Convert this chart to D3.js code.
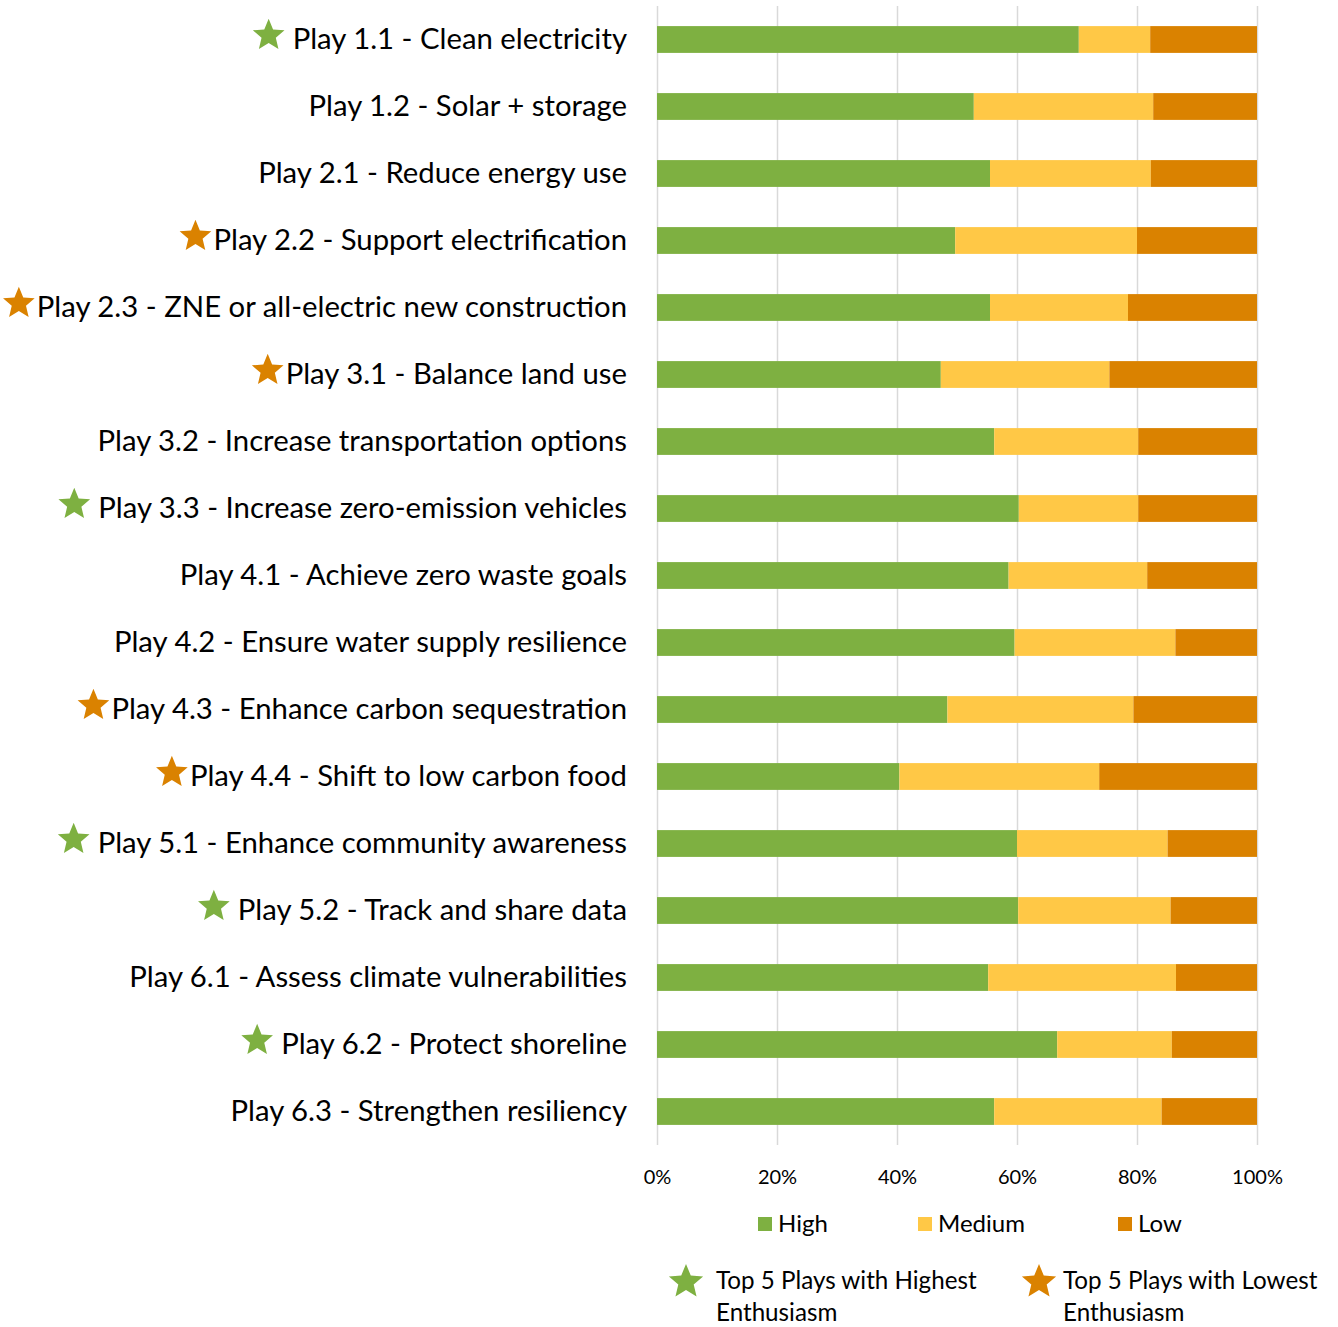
<!DOCTYPE html>
<html>
<head>
<meta charset="utf-8">
<script src="https://cdn.jsdelivr.net/npm/d3@7"></script>
<style>
  body { margin: 0; background: #fff; }
  svg { font-family: Lato, "Open Sans", sans-serif; }
  .grid line { stroke: #d9d9d9; stroke-width: 1.5; }
  .grid path { display: none; }
  .x-axis path, .x-axis line { display: none; }
</style>
</head>
<body>
<svg id="chart"></svg>
<script>
// categories (top to bottom)
const plays = [
  'Play 1.1 - Clean electricity',
  'Play 1.2 - Solar + storage',
  'Play 2.1 - Reduce energy use',
  'Play 2.2 - Support electrification',
  'Play 2.3 - ZNE or all-electric new construction',
  'Play 3.1 - Balance land use',
  'Play 3.2 - Increase transportation options',
  'Play 3.3 - Increase zero-emission vehicles',
  'Play 4.1 - Achieve zero waste goals',
  'Play 4.2 - Ensure water supply resilience',
  'Play 4.3 - Enhance carbon sequestration',
  'Play 4.4 - Shift to low carbon food',
  'Play 5.1 - Enhance community awareness',
  'Play 5.2 - Track and share data',
  'Play 6.1 - Assess climate vulnerabilities',
  'Play 6.2 - Protect shoreline',
  'Play 6.3 - Strengthen resiliency'
];

// share of respondents (%)
const high   = [70.3, 52.8, 55.5, 49.7, 55.5, 47.3, 56.2, 60.3, 58.6, 59.6, 48.4, 40.4, 60.0, 60.2, 55.2, 66.7, 56.2];
const medium = [11.9, 29.9, 26.8, 30.3, 23.0, 28.1, 24.0, 19.9, 23.1, 26.8, 31.0, 33.3, 25.1, 25.4, 31.3, 19.1, 27.9];
const low    = [17.8, 17.3, 17.7, 20.0, 21.5, 24.6, 19.8, 19.8, 18.3, 13.6, 20.6, 26.3, 14.9, 14.4, 13.5, 14.2, 15.9];

// star markers: 'top' = highest enthusiasm, 'bottom' = lowest
const stars = ['top', '', '', 'bottom', 'bottom', 'bottom', '', 'top', '', '', 'bottom', 'bottom', 'top', 'top', '', 'top', ''];

const levels = ['High', 'Medium', 'Low'];
const tickValues = [0, 20, 40, 60, 80, 100];
const starLegend = [
  ['top', 'Top 5 Plays with Highest', 'Enthusiasm'],
  ['bottom', 'Top 5 Plays with Lowest', 'Enthusiasm']
];

const colors = { High: '#7eb041', Medium: '#ffc846', Low: '#da8200' };
const starColors = { top: '#7eb041', bottom: '#da8200' };

const W = 1338, H = 1327;
const margin = { top: 6, left: 657, right: 81 };
const plotH = 1139;
const width = W - margin.left - margin.right;

const svg = d3.select('#chart').attr('width', W).attr('height', H);
const chart = svg.append('g').attr('transform', `translate(${margin.left},${margin.top})`);

const data = plays.map((p, i) => ({ play: p, High: high[i], Medium: medium[i], Low: low[i], star: stars[i] }));

const xScale = d3.scaleLinear().domain([0, 100]).range([0, width]);
const yScale = d3.scaleBand().domain(plays).range([0, plotH]).paddingInner(0.6).paddingOuter(0.3);

// gridlines
chart.append('g')
  .attr('class', 'grid')
  .attr('transform', `translate(0,${plotH})`)
  .call(d3.axisBottom(xScale).tickValues(tickValues).tickSize(-plotH).tickFormat(''));

// x axis labels
const xAxisG = chart.append('g')
  .attr('class', 'axis x-axis')
  .attr('transform', `translate(0,${plotH})`)
  .call(d3.axisBottom(xScale).tickValues(tickValues).tickSize(0).tickPadding(25).tickFormat(d => d + '%'));
xAxisG.selectAll('text').attr('font-size', 20).attr('fill', '#000').attr('font-family', 'Lato, sans-serif');

// stacked bars
const stacked = d3.stack().keys(levels)(data);
chart.selectAll('.series')
  .data(stacked)
  .join('g')
    .attr('class', 'series')
    .attr('fill', d => colors[d.key])
  .selectAll('rect')
  .data(d => d)
  .join('rect')
    .attr('x', d => xScale(d[0]))
    .attr('y', d => yScale(d.data.play))
    .attr('width', d => xScale(d[1]) - xScale(d[0]))
    .attr('height', yScale.bandwidth());

// chunkier five point star than d3.symbolStar
const fatStar = {
  draw(context, size) {
    const r = Math.sqrt(size / 1.3), ri = r * 0.45;
    for (let i = 0; i < 10; i++) {
      const a = -Math.PI / 2 + i * Math.PI / 5;
      const rr = i % 2 ? ri : r;
      if (i === 0) context.moveTo(rr * Math.cos(a), rr * Math.sin(a));
      else context.lineTo(rr * Math.cos(a), rr * Math.sin(a));
    }
    context.closePath();
  }
};
const star = d3.symbol().type(fatStar).size(360);

// category labels
const labelG = svg.append('g');
const labels = labelG.selectAll('text')
  .data(data)
  .join('text')
    .attr('x', 627)
    .attr('y', d => margin.top + yScale(d.play) + yScale.bandwidth() / 2 - 1)
    .attr('dy', '0.35em')
    .attr('text-anchor', 'end')
    .attr('font-size', 29.3)
    .attr('fill', '#000')
    .text(d => d.play);

// stars in front of labels
labels.each(function(d) {
  if (!d.star) return;
  const box = this.getBBox();
  const gap = d.star === 'top' ? 24 : 18;
  labelG.append('path')
    .attr('d', star())
    .attr('fill', starColors[d.star])
    .attr('transform', `translate(${box.x - gap},${margin.top + yScale(d.play) + yScale.bandwidth() / 2 - 4})`);
});

// series legend
const legendX = [758, 918, 1118];
const legend = svg.append('g').selectAll('g')
  .data(levels)
  .join('g')
    .attr('transform', (d, i) => `translate(${legendX[i]},1224)`);
legend.append('rect')
  .attr('x', 0).attr('y', -7).attr('width', 14).attr('height', 14)
  .attr('fill', d => colors[d]);
legend.append('text')
  .attr('x', 20).attr('dy', '0.35em')
  .attr('font-size', 24)
  .text(d => d);

// star legend
const starLegX = [686, 1039];
const starTextX = [30, 24];
const sl = svg.append('g').selectAll('g')
  .data(starLegend)
  .join('g')
    .attr('transform', (d, i) => `translate(${starLegX[i]},1282)`);
sl.append('path')
  .attr('d', d3.symbol().type(fatStar).size(420)())
  .attr('fill', d => starColors[d[0]]);
sl.append('text')
  .attr('x', (d, i) => starTextX[i]).attr('dy', '0.3em')
  .attr('font-size', 24.2)
  .text(d => d[1]);
sl.append('text')
  .attr('x', (d, i) => starTextX[i]).attr('y', 32).attr('dy', '0.3em')
  .attr('font-size', 24.2)
  .text(d => d[2]);
</script>
</body>
</html>
